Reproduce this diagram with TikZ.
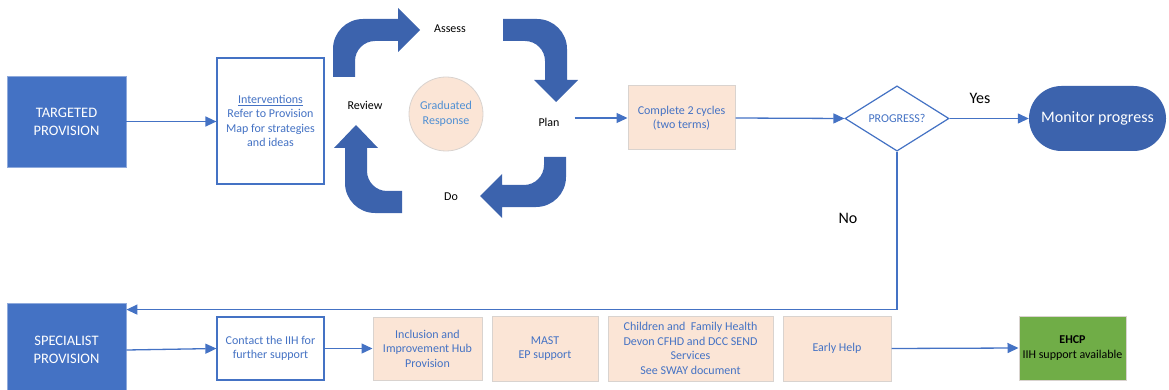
\documentclass[tikz,border=0pt]{standalone}
\usepackage{fontspec}
\setmainfont{Carlito}
\usetikzlibrary{arrows.meta,shapes.geometric,calc}
\definecolor{mblue}{HTML}{4472C4}
\definecolor{dblue}{HTML}{3C63AD}
\definecolor{lblue}{HTML}{4F8FD3}
\definecolor{peach}{HTML}{FBE5D6}
\definecolor{pborder}{HTML}{D9D3CF}
\definecolor{bborder}{HTML}{8FAADC}
\definecolor{green1}{HTML}{70AD47}
\begin{document}
\begin{tikzpicture}[x=1pt,y=-1pt,
  txt/.style={font=\fontsize{12}{14.5}\selectfont, align=center},
  bluebox/.style={txt, fill=mblue, draw=bborder, line width=0.8pt, text=white, font=\fontsize{14.5}{18}\selectfont, inner sep=0pt},
  linebox/.style={txt, draw=mblue, line width=1.2pt, fill=white, text=mblue, inner sep=0pt},
  peachbox/.style={txt, fill=peach, draw=pborder, line width=1pt, text=mblue, inner sep=0pt},
  conn/.style={draw=mblue, line width=1.3pt, -{Triangle[length=11pt,width=10pt]}},
  cyc/.style={fill=dblue},
  word/.style={txt, text=black, inner sep=1pt},
  bigword/.style={font=\fontsize{16}{19}\selectfont, text=black, inner sep=1pt}]
\useasboundingbox (0,0) rectangle (1169,390);

% top row
\node[bluebox, minimum width=119, minimum height=91] (targeted) at (66.5,121.5) {TARGETED\\PROVISION};
\node[linebox, minimum width=107, minimum height=126] (interv) at (270.5,121) {\underline{Interventions}\\Refer to Provision\\Map for strategies\\and ideas};
\node[circle, fill=peach, draw=pborder, line width=0.8pt, minimum size=74, inner sep=0pt, txt, text=lblue] (grad) at (446,114) {Graduated\\Response};

% cycle arrows
\fill[cyc] (333,77) -- (333,49) .. controls (333,32.4) and (346.4,19) .. (363,19) -- (398,19) -- (398,8) -- (420,30) -- (398,52) -- (398,41) -- (375,41) .. controls (364,41) and (355,50) .. (355,61) -- (355,77) -- cycle;
\fill[cyc] (503,19) -- (537,19) .. controls (553.6,19) and (567,32.4) .. (567,49) -- (567,80) -- (578,80) -- (556,102) -- (534,80) -- (545,80) -- (545,61) .. controls (545,50) and (536,41) .. (525,41) -- (503,41) -- cycle;
\fill[cyc] (566,157) -- (566,177) .. controls (566,193.6) and (552.6,207) .. (536,207) -- (502,207) -- (502,218) -- (480,196) -- (502,174) -- (502,185) -- (524,185) .. controls (535,185) and (544,176) .. (544,165) -- (544,157) -- cycle;
\fill[cyc] (402,213) -- (375,213) .. controls (358.4,213) and (345,199.6) .. (345,183) -- (345,148) -- (334,148) -- (356,125) -- (378,148) -- (367,148) -- (367,171) .. controls (367,182) and (376,191) .. (387,191) -- (402,191) -- cycle;

\node[word] (assess) at (450,29) {Assess};
\node[word] (review) at (365,105) {Review};
\node[word] (plan) at (549,122) {Plan};
\node[word] (do) at (451,197) {Do};

\node[peachbox, minimum width=107, minimum height=64] (complete) at (681.5,118) {Complete 2 cycles\\(two terms)};
\node[diamond, draw=mblue, line width=1.2pt, fill=white, minimum width=104, minimum height=63, inner sep=0pt, txt, text=mblue] (prog) at (897,118.5) {PROGRESS?};
\node[fill=dblue, rounded corners=32.5, minimum width=137, minimum height=65, inner sep=0pt, text=white, font=\fontsize{16}{19}\selectfont] (monitor) at (1097.5,118.5) {Monitor progress};

\node[bigword] (yes) at (980,98) {Yes};
\node[bigword] (no) at (848,218) {No};

% bottom row
\node[bluebox, minimum width=119, minimum height=94] (special) at (66.5,350) {SPECIALIST\\PROVISION};
\node[linebox, minimum width=107, minimum height=63] (contact) at (270.5,348.5) {Contact the IIH for\\further support};
\node[peachbox, minimum width=109, minimum height=63] (incl) at (427.5,348.5) {Inclusion and\\Improvement Hub\\Provision};
\node[peachbox, minimum width=106, minimum height=65] (mast) at (545,348.5) {MAST\\EP support};
\node[peachbox, minimum width=165, minimum height=65] (child) at (690.5,348.5) {Children and\ \ Family Health\\Devon CFHD and DCC SEND\\Services\\See SWAY document};
\node[peachbox, minimum width=108, minimum height=65] (early) at (837,348.5) {Early Help};
\node[txt, fill=green1, draw=pborder, line width=1pt, text=black, minimum width=107, minimum height=64, inner sep=0pt] (ehcp) at (1072.5,348) {\textbf{EHCP}\\IIH support available};

% connectors
\draw[conn] (targeted.east) -- (interv.west |- targeted.east);
\draw[conn] ([xshift=14pt]plan.east |- complete.west) -- (complete.west);
\draw[conn] (complete.east) -- (prog.west);
\draw[conn] (prog.east) -- (monitor.west);
\draw[conn] (prog.south) |- ($(special.north east)+(0,7)$);
\draw[conn] (special.east) -- (contact.west);
\draw[conn] (contact.east) -- (incl.west);
\draw[conn] (early.east) -- (ehcp.west);
\end{tikzpicture}
\end{document}
